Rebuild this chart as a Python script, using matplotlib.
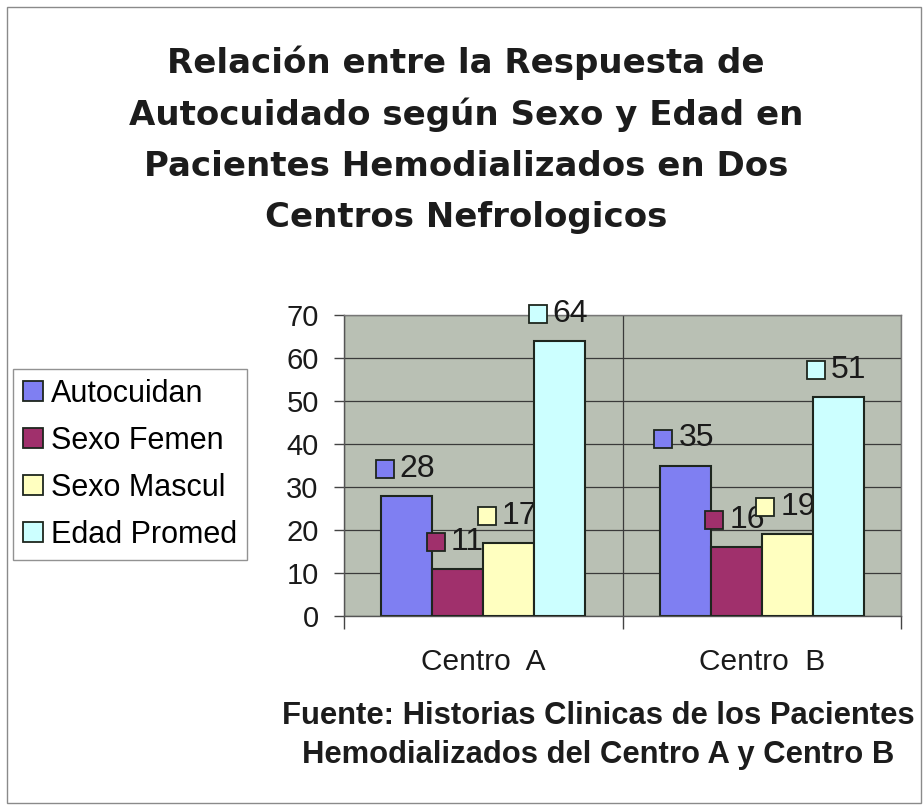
# -*- coding: utf-8 -*-
import matplotlib
matplotlib.use('Agg')
import matplotlib.pyplot as plt
import numpy as np
from matplotlib.patches import Rectangle
from matplotlib.transforms import offset_copy

plt.rcParams['font.family'] = ['Liberation Sans', 'DejaVu Sans']

TITLE = [
    'Relación entre la Respuesta de',
    'Autocuidado según Sexo y Edad en',
    'Pacientes Hemodializados en Dos',
    'Centros Nefrologicos',
]
SOURCE = [
    'Fuente: Historias Clinicas de los Pacientes',
    'Hemodializados del Centro A y Centro B',
]

centros = ['Centro  A', 'Centro  B']
series = ['Autocuidan', 'Sexo Femen', 'Sexo Mascul', 'Edad Promed']
autocuidan = [28, 35]
sexo_femen = [11, 16]
sexo_mascul = [17, 19]
edad_promed = [64, 51]

PALLET = [
    '#7f7ff2',  # periwinkle
    '#a0306c',  # plum
    '#ffffc0',  # light yellow
    '#ccffff',  # light turquoise
]
EDGE = '#1e261e'

W, H = 923, 809
fig = plt.figure(figsize=(W / 100, H / 100), dpi=100)

# outer frame of the chart
fig.add_artist(Rectangle((7 / W, 1 - 803 / H), 914 / W, 796 / H,
                         transform=fig.transFigure, fill=False,
                         edgecolor='#8a8a8a', linewidth=1))

left, right, top, bottom = 344, 901, 315, 616
ax = fig.add_axes([left / W, 1 - bottom / H, (right - left) / W, (bottom - top) / H])
ax.set_facecolor('#b9c0b4')

values = [autocuidan, sexo_femen, sexo_mascul, edad_promed]
x = np.arange(len(centros))
width = 0.183
for i, (name, vals) in enumerate(zip(series, values)):
    pos = x + (i - 1.5) * width
    ax.bar(pos, vals, width, color=PALLET[i], edgecolor=EDGE,
           linewidth=1.5, label=name, zorder=2 + 2 * i)
    # data labels: small key square + value, drawn under the next series
    mtrans = offset_copy(ax.transData, fig=fig, x=-22, y=27, units='dots')
    ttrans = offset_copy(ax.transData, fig=fig, x=-7, y=27, units='dots')
    for p, v in zip(pos, vals):
        ax.plot(p, v, marker='s', markersize=13.5, markerfacecolor=PALLET[i],
                markeredgecolor=EDGE, markeredgewidth=1.3,
                transform=mtrans, clip_on=False, zorder=3 + 2 * i)
        ax.text(p, v, str(v), transform=ttrans, fontsize=23, ha='left',
                va='center', color='#1a1a1a', clip_on=False, zorder=3 + 2 * i)

ax.set_xlim(-0.5, 1.5)
ax.set_ylim(0, 70)
ax.set_yticks(range(0, 71, 10))
ax.set_xticks([-0.5, 0.5, 1.5])
ax.set_xticklabels([])
ax.set_xticks(x, minor=True)
ax.set_xticklabels(centros, minor=True, fontsize=21.5, color='#1a1a1a')
ax.tick_params(axis='x', which='minor', length=0, pad=23)
ax.tick_params(axis='x', which='major', length=9, width=1, color='#444444')
ax.tick_params(axis='y', labelsize=21, length=7.2, width=1, color='#444444',
               pad=11, labelcolor='#1a1a1a')

ax.grid(axis='y', color='#3a3a3a', linewidth=0.9)
ax.grid(axis='x', which='major', color='#3a3a3a', linewidth=0.9)
ax.set_axisbelow(True)
for s in ax.spines.values():
    s.set_color('#555555')
    s.set_linewidth(1)
ax.spines['top'].set_color('#777777')
ax.spines['right'].set_color('#777777')

leg = fig.legend(loc='upper left', bbox_to_anchor=(13 / W, 1 - 369 / H),
                 fontsize=22, frameon=True, fancybox=False,
                 edgecolor='#777777', handlelength=0.64, handleheight=0.64,
                 handletextpad=0.26, labelspacing=0.555, borderpad=0.33,
                 borderaxespad=0)
leg.get_frame().set_linewidth(1)
for h in leg.legend_handles:
    h.set_linewidth(1.3)

for k, line in enumerate(TITLE):
    fig.text(466 / W, 1 - (73.5 + 51 * k) / H, line, fontsize=24.5,
             family='DejaVu Sans', fontweight='bold', ha='center',
             va='baseline', color='#1c1c1c')
for k, line in enumerate(SOURCE):
    fig.text(598 / W, 1 - (724 + 39 * k) / H, line, fontsize=22.3,
             fontweight='bold', ha='center', va='baseline', color='#1c1c1c')

plt.savefig('out.png', dpi=100)
plt.close()
